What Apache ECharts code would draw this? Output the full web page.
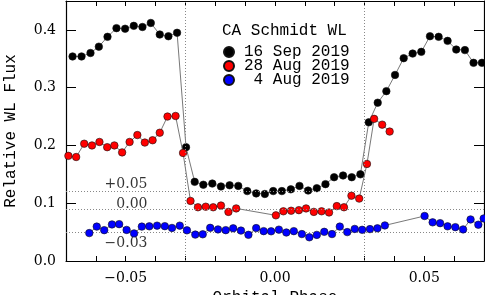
<!DOCTYPE html>
<html>
<head>
<meta charset="utf-8">
<script src="https://cdn.jsdelivr.net/npm/echarts@6/dist/echarts.min.js"></script>
<style>html,body{margin:0;padding:0;background:#fff;}#c{width:485px;height:295px;}</style>
</head>
<body>
<div id="c"></div>
<script>
// ---- data ----
var seriesNames = ['16 Sep 2019', '28 Aug 2019', '4 Aug 2019'];
var titleText = 'CA Schmidt WL';

var sepPhase = [-0.0678,-0.0648,-0.0618,-0.0590,-0.0561,-0.0531,-0.0502,-0.0473,-0.0444,-0.0416,-0.0386,-0.0357,-0.0328,
  -0.0298,
  -0.0269,-0.0240,-0.0210,-0.0181,-0.0152,-0.0123,-0.0093,-0.0063,-0.0034,-0.0006,0.0023,
  0.0053,0.0082,0.0111,0.0140,0.0169,0.0198,0.0228,0.0257,0.0286,
  0.0314,0.0344,0.0373,0.0402,0.0431,0.0461,0.0490,0.0519,0.0548,0.0578,0.0607,0.0636,0.0665,0.0693];
var sepFlux = [0.354,0.354,0.360,0.371,0.388,0.403,0.402,0.407,0.405,0.412,0.392,0.389,0.395,
  0.197,
  0.137,0.132,0.134,0.129,0.131,0.130,0.121,0.117,0.116,0.121,0.121,
  0.124,0.130,0.122,0.126,0.133,0.145,0.148,0.145,0.150,
  0.240,0.274,0.294,0.322,0.351,0.359,0.362,0.389,0.388,0.381,0.366,0.365,0.343,0.343];

var augLatePhase = [-0.0692,-0.0666,-0.0639,-0.0613,-0.0588,-0.0562,-0.0538,-0.0512,-0.0487,-0.0461,-0.0436,-0.0410,-0.0386,-0.0360,-0.0333,-0.0308,
  -0.0283,-0.0258,-0.0232,-0.0207,-0.0181,-0.0156,-0.0130,
  0.0003,0.0028,0.0054,0.0080,0.0104,0.0130,0.0156,0.0181,0.0207,0.0231,0.0256,0.0282,0.0308,
  0.0332,0.0359,0.0384];
var augLateFlux = [0.182,0.180,0.203,0.200,0.206,0.197,0.200,0.188,0.206,0.218,0.205,0.209,0.222,0.250,0.251,0.187,
  0.104,0.093,0.094,0.093,0.096,0.085,0.091,
  0.079,0.086,0.087,0.088,0.091,0.085,0.086,0.084,0.095,0.093,0.113,0.108,0.168,
  0.246,0.236,0.224];

var augEarlyPhase = [-0.0622,-0.0597,-0.0572,-0.0546,-0.0522,-0.0497,-0.0472,-0.0446,-0.0421,-0.0395,-0.0369,-0.0345,-0.0319,-0.0295,
  -0.0267,-0.0242,-0.0217,-0.0191,-0.0165,-0.0140,-0.0114,-0.0089,-0.0063,-0.0038,-0.0013,
  0.0013,0.0038,0.0063,0.0090,0.0115,0.0140,0.0165,0.0191,0.0217,0.0242,0.0267,0.0292,0.0318,0.0343,0.0368,
  0.0501,0.0528,0.0553,0.0578,0.0604,0.0630,0.0655,0.0681,0.0699];
var augEarlyFlux = [0.0483,0.0595,0.0534,0.0633,0.0638,0.0538,0.0478,0.0595,0.0600,0.0612,0.0603,0.0572,0.0612,0.0531,
  0.0457,0.0462,0.0574,0.0547,0.0534,0.0566,0.0526,0.0453,0.0569,0.0517,0.0514,
  0.0543,0.0493,0.0517,0.0466,0.0410,0.0452,0.0505,0.0466,0.0595,0.0500,0.0555,0.0540,0.0552,0.0566,0.0616,
  0.0779,0.0669,0.0655,0.0600,0.0586,0.0547,0.0719,0.0628,0.0736];

var eclipseEdges = [-0.0307, 0.0307];
var offsetLevels = [0.1207, 0.0862, 0.0546];
var offsetLabels = ['+0.05', '0.00', '\u22120.03'];
var offsetLabelPhase = -0.0427;

var xTickLabels = [-0.05, 0.00, 0.05];
var yMin = 0, yMax = 0.45, yStep = 0.1;
var xMin = -0.07, xMax = 0.07, xStep = 0.01;

// ---- chart ----
function pairs(a, b) { return a.map(function (v, i) { return [v, b[i]]; }); }

var serif = 'DejaVu Serif';
var mono = 'Liberation Mono';
var colors = ['#000000', '#ff0000', '#0000ff'];
var phases = [sepPhase, augLatePhase, augEarlyPhase];
var fluxes = [sepFlux, augLateFlux, augEarlyFlux];

var series = [];
[2, 1, 0].forEach(function (k) {
  series.push({
    name: seriesNames[k],
    type: 'line',
    data: pairs(phases[k], fluxes[k]),
    symbol: 'circle',
    symbolSize: 7.5,
    showAllSymbol: true,
    clip: true,
    lineStyle: { color: '#555', width: 0.8 },
    itemStyle: { color: colors[k], borderColor: '#111', borderWidth: 0.6 },
    z: 3 + k
  });
});

series.push({
  type: 'line',
  data: [],
  silent: true,
  markLine: {
    silent: true,
    symbol: 'none',
    label: { show: false },
    lineStyle: { color: '#888', type: [1, 2], width: 1 },
    data: eclipseEdges.map(function (v) { return { xAxis: v }; })
      .concat(offsetLevels.map(function (v) { return { yAxis: v }; }))
  },
  z: 1
});

series.push({
  type: 'scatter',
  symbolSize: 0,
  silent: true,
  data: offsetLevels.map(function (v, i) { return { value: [offsetLabelPhase, v], name: offsetLabels[i] }; }),
  label: {
    show: true,
    position: [0, 0],
    align: 'right',
    verticalAlign: 'middle',
    fontFamily: serif,
    fontSize: 14,
    color: '#000',
    formatter: function (p) { return p.name; }
  },
  labelLayout: function (p) {
    return { dy: p.dataIndex === 2 ? 14 : -7 };
  },
  z: 2
});

function fmtX(v) {
  var r = Math.round(v * 100);
  for (var i = 0; i < xTickLabels.length; i++) {
    if (Math.round(xTickLabels[i] * 100) === r) {
      return xTickLabels[i].toFixed(2).replace('-', '\u2212');
    }
  }
  return '';
}

var chart = echarts.init(document.getElementById('c'), null, { renderer: 'canvas' });
chart.setOption({
  animation: false,
  backgroundColor: '#fff',
  title: {
    text: titleText,
    left: 222,
    top: 23,
    padding: 0,
    textStyle: { fontFamily: mono, fontSize: 16, fontWeight: 'normal', color: '#000' }
  },
  legend: {
    orient: 'vertical',
    left: 223,
    top: 44,
    padding: 0,
    itemGap: -2,
    itemWidth: 10,
    itemHeight: 10,
    icon: 'circle',
    data: seriesNames,
    formatter: function (n) { return n.length < 11 ? ' ' + n : n; },
    textStyle: { fontFamily: mono, fontSize: 16, color: '#000', padding: [0, 0, 0, 5] }
  },
  grid: { left: 66, right: 1, top: 1, bottom: 34, outerBoundsMode: 'none', containLabel: false },
  xAxis: [{
    type: 'value', min: xMin, max: xMax, interval: xStep, position: 'bottom',
    name: 'Orbital Phase', nameLocation: 'middle', nameGap: 25,
    nameTextStyle: { fontFamily: mono, fontSize: 16, color: '#000' },
    axisLine: { show: true, onZero: false, lineStyle: { color: '#000', width: 1.2 } },
    axisTick: { show: true, inside: true, length: 5, lineStyle: { color: '#000', width: 1 } },
    axisLabel: { show: true, formatter: fmtX, fontFamily: serif, fontSize: 14, color: '#000', margin: 10, showMinLabel: false, showMaxLabel: false },
    splitLine: { show: false }
  }, {
    type: 'value', min: xMin, max: xMax, interval: xStep, position: 'top',
    axisLine: { show: true, onZero: false, lineStyle: { color: '#000', width: 1.2 } },
    axisTick: { show: true, inside: true, length: 5, lineStyle: { color: '#000', width: 1 } },
    axisLabel: { show: false },
    splitLine: { show: false }
  }],
  yAxis: [{
    type: 'value', min: yMin, max: yMax, interval: yStep, position: 'left',
    name: 'Relative WL Flux', nameLocation: 'middle', nameGap: 47,
    nameTextStyle: { fontFamily: mono, fontSize: 16, color: '#000' },
    axisLine: { show: true, onZero: false, lineStyle: { color: '#000', width: 1.2 } },
    axisTick: { show: true, inside: true, length: 10, lineStyle: { color: '#000', width: 1 } },
    axisLabel: { show: true, formatter: function (v) { return v.toFixed(1); }, fontFamily: serif, fontSize: 14, color: '#000', margin: 10, showMaxLabel: false },
    splitLine: { show: false }
  }, {
    type: 'value', min: yMin, max: yMax, interval: yStep, position: 'right',
    axisLine: { show: true, onZero: false, lineStyle: { color: '#000', width: 1.2 } },
    axisTick: { show: true, inside: true, length: 10, lineStyle: { color: '#000', width: 1 } },
    axisLabel: { show: false },
    splitLine: { show: false }
  }],
  series: series
});
</script>
</body>
</html>
